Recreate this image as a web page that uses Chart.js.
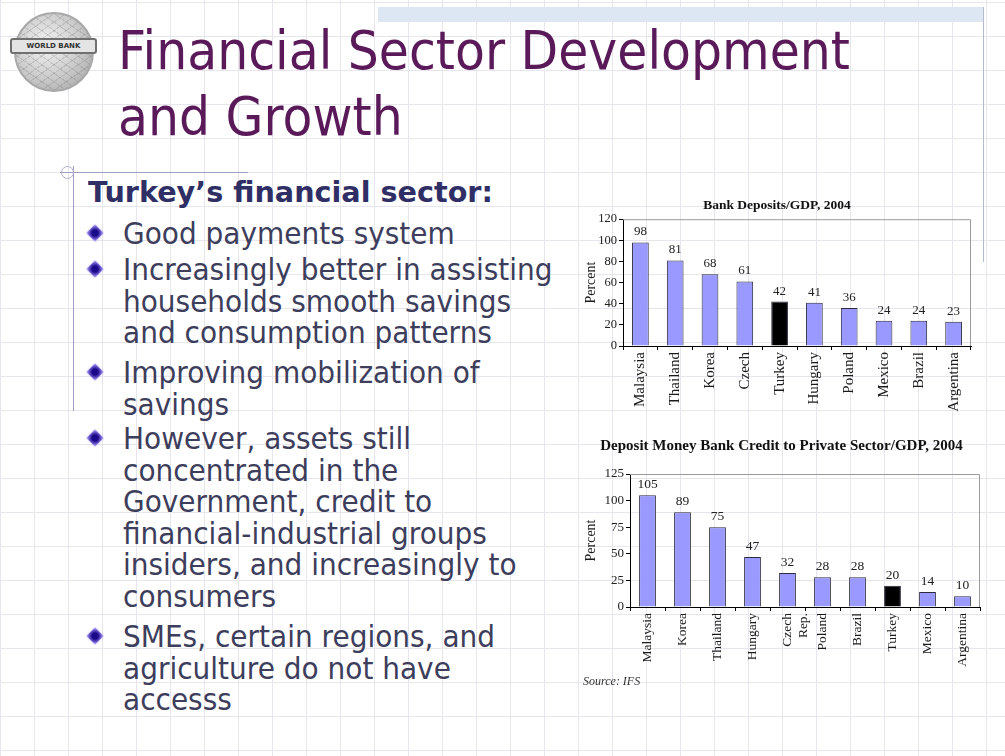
<!DOCTYPE html>
<html><head><meta charset="utf-8">
<script src="https://cdn.jsdelivr.net/npm/chart.js@4.4.1/dist/chart.umd.min.js"></script>
<style>
html,body{margin:0;padding:0;}
body{width:1005px;height:756px;overflow:hidden;position:relative;background:#fff;
 background-image:linear-gradient(to right,#e6e6ec 1px,transparent 1px),linear-gradient(to bottom,#e6e6ec 1px,transparent 1px);
 background-size:34px 34px;background-position:0 2px;font-family:"DejaVu Sans",sans-serif;}
.abs{position:absolute;}
.title{left:118px;font-size:54px;line-height:66px;color:#5a1a5a;white-space:nowrap;transform-origin:0 0;}
.head{left:88px;top:178px;font-size:29px;line-height:29px;font-weight:bold;color:#2f2f66;white-space:nowrap;transform-origin:0 0;}
.bl{left:123px;font-size:30px;line-height:31.5px;color:#3d3d5c;white-space:nowrap;transform-origin:0 0;}
.dia{width:12px;height:12px;transform:rotate(45deg);background:radial-gradient(circle,#1a0a8a 35%,#7a66d6 75%,#b8aef0 100%);box-shadow:0 0 2px #b0a6ee;}
</style></head>
<body>
<div class="abs" style="left:378px;top:7px;width:605px;height:15px;background:#dde6f3;"></div>
<div class="abs" style="left:983px;top:7px;width:1px;height:255px;background:#b4bccc;"></div>
<!-- logo -->
<div class="abs" style="left:14px;top:12px;width:80px;height:80px;border-radius:50%;background:repeating-linear-gradient(35deg,rgba(120,120,120,0.25) 0 1px,transparent 1px 7px),repeating-linear-gradient(-35deg,rgba(120,120,120,0.25) 0 1px,transparent 1px 7px),radial-gradient(circle at 40% 40%,#f4f4f4 0%,#c9c9c9 55%,#9a9a9a 100%);border:2px solid #a8a8a8;box-sizing:border-box;"></div>
<div class="abs" style="left:10px;top:38px;width:87px;height:16px;background:#e4e4e4;border:2px solid #707070;box-sizing:border-box;border-radius:3px;font:bold 7px 'DejaVu Sans';color:#333;text-align:center;line-height:12px;">WORLD BANK</div>
<!-- title -->
<div class="abs title" id="t1" style="top:18px;">Financial Sector Development</div>
<div class="abs title" id="t2" style="top:84px;">and Growth</div>
<!-- decoration -->
<div class="abs" style="left:60px;top:172px;width:188px;height:1px;background:#a0a0c0;"></div>
<div class="abs" style="left:73px;top:166px;width:1px;height:245px;background:#a0a0c0;"></div>
<div class="abs" style="left:61px;top:166px;width:11px;height:11px;border:1px solid #b0b0d0;border-radius:50%;"></div>
<!-- text -->
<div class="abs head" id="hd">Turkey’s financial sector:</div>
<div class="abs dia" style="left:89px;top:227px;"></div>
<div class="abs bl" id="b1" style="top:218px;">Good payments system</div>
<div class="abs dia" style="left:89px;top:263px;"></div>
<div class="abs bl" style="top:254px;">Increasingly better in assisting<br>households smooth savings<br>and consumption patterns</div>
<div class="abs dia" style="left:89px;top:366px;"></div>
<div class="abs bl" style="top:357px;">Improving mobilization of<br>savings</div>
<div class="abs dia" style="left:89px;top:432px;"></div>
<div class="abs bl" style="top:423px;">However, assets still<br>concentrated in the<br>Government, credit to<br>financial-industrial groups<br>insiders, and increasingly to<br>consumers</div>
<div class="abs dia" style="left:89px;top:630px;"></div>
<div class="abs bl" style="top:621px;">SMEs, certain regions, and<br>agriculture do not have<br>accesss</div>
<!-- charts -->
<div class="abs" style="left:583px;top:194px;width:392px;height:222px;"><canvas id="c1"></canvas></div>
<div class="abs" style="left:583px;top:432px;width:402px;height:243px;"><canvas id="c2"></canvas></div>
<div class="abs" style="left:583px;top:674px;font:italic 12px 'Liberation Serif',serif;color:#333;">Source: IFS</div>
<script>
// ---- data ----
const depCategories = ['Malaysia','Thailand','Korea','Czech','Turkey','Hungary','Poland','Mexico','Brazil','Argentina'];
const depValues = [98,81,68,61,42,41,36,24,24,23];
const depTicks = [0,20,40,60,80,100,120];
const credCategories = ['Malaysia','Korea','Thailand','Hungary',['Czech','Rep.'],'Poland','Brazil','Turkey','Mexico','Argentina'];
const credValues = [105,89,75,47,32,28,28,20,14,10];
const credTicks = [0,25,50,75,100,125];
const highlight = 'Turkey';

// scale text blocks to target widths
function fit(id, w){const e=document.getElementById(id);return w/e.offsetWidth;}
const sT = fit('t1',732); document.querySelectorAll('.title').forEach(e=>e.style.transform='scaleX('+sT+')');
const sH = fit('hd',405); document.getElementById('hd').style.transform='scaleX('+sH+')';
const sB = fit('b1',332); document.querySelectorAll('.bl').forEach(e=>e.style.transform='scaleX('+sB+')');

const serif = "'Liberation Serif', 'Times New Roman', serif";
const labelPlugin = {
  id:'vals',
  afterDatasetsDraw(chart, args, opts){
    const ctx = chart.ctx; ctx.save();
    ctx.font = opts.size + 'px ' + serif; ctx.fillStyle = '#222'; ctx.textAlign='center'; ctx.textBaseline='bottom';
    const meta = chart.getDatasetMeta(0);
    meta.data.forEach((el,i)=>{ ctx.fillText(String(chart.data.datasets[0].data[i]), el.x, el.y - 4); });
    ctx.restore();
  }
};
const framePlugin = {
  id:'frame',
  afterDraw(chart){
    const a = chart.chartArea, ctx = chart.ctx; ctx.save();
    ctx.strokeStyle = '#9a9a9a'; ctx.lineWidth = 1; ctx.beginPath();
    ctx.moveTo(a.left, a.top+0.5); ctx.lineTo(a.right-0.5, a.top+0.5); ctx.lineTo(a.right-0.5, a.bottom); ctx.stroke();
    ctx.restore();
  }
};
function makeChart(id, cats, vals, ticks, opt){
  const colors = cats.map(c => (c === highlight ? '#000000' : '#9999ff'));
  return new Chart(document.getElementById(id), {
    type:'bar',
    data:{labels:cats, datasets:[{data:vals, backgroundColor:colors, borderColor:'#2a2a40', borderWidth:1, barPercentage:0.48, categoryPercentage:1}]},
    options:{
      responsive:true, maintainAspectRatio:false, animation:false,
      layout:{padding:{right:opt.padRight, left:0, top:0, bottom:0}},
      plugins:{legend:{display:false}, tooltip:{enabled:false},
        title:{display:true, text:opt.title, color:'#111', font:{family:serif, size:opt.titleSize, weight:'bold'}, padding:{top:opt.tpTop, bottom:opt.tpBottom}},
        vals:{size:opt.valSize}},
      scales:{
        x:{offset:true, grid:{display:true, drawOnChartArea:false, drawTicks:true, tickLength:4, color:'#000', offset:true},
           border:{display:true, color:'#000', width:1},
           ticks:{minRotation:90, maxRotation:90, autoSkip:false, padding:2, color:'#1a1a1a', font:{family:serif, size:opt.xSize}},
           afterFit(s){ s.height = opt.xHeight; }},
        y:{min:0, max:ticks[ticks.length-1], afterBuildTicks(s){ s.ticks = ticks.map(v=>({value:v})); },
           grid:{display:true, drawOnChartArea:false, drawTicks:true, tickLength:4, color:'#000'},
           border:{display:true, color:'#000', width:1},
           ticks:{padding:2, color:'#222', font:{family:serif, size:opt.ySize}},
           title:{display:true, text:'Percent', color:'#1a1a1a', padding:{top:0,bottom:0}, font:{family:serif, size:opt.yTitleSize}},
           afterFit(s){ s.width = opt.yWidth; }}
      }
    },
    plugins:[labelPlugin, framePlugin]
  });
}
makeChart('c1', depCategories, depValues, depTicks, {title:'Bank Deposits/GDP, 2004', titleSize:13.5, tpTop:3, tpBottom:6, padRight:4, xHeight:70, yWidth:40, xSize:15, ySize:12.5, yTitleSize:14, valSize:13});
makeChart('c2', credCategories, credValues, credTicks, {title:'Deposit Money Bank Credit to Private Sector/GDP, 2004', titleSize:15, tpTop:5, tpBottom:19, padRight:5, xHeight:68, yWidth:47, xSize:13.5, ySize:13, yTitleSize:14, valSize:13.5});
</script>
</body></html>
